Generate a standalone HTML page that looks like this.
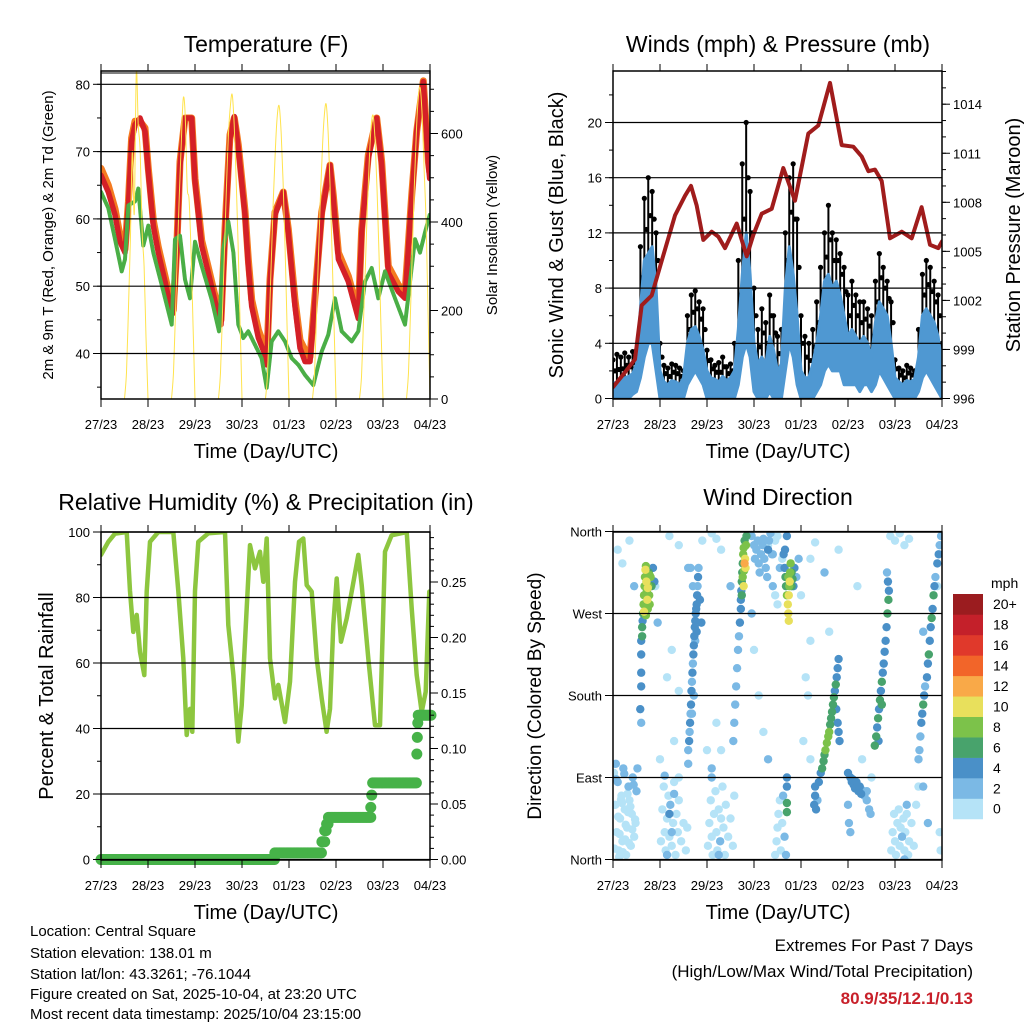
<!DOCTYPE html>
<html><head><meta charset="utf-8"><title>Weather station 7-day summary</title>
<style>
html,body{margin:0;padding:0;background:#fff;}
svg{display:block;font-family:"Liberation Sans",Arial,sans-serif;}
</style></head>
<body>
<svg id="fig" width="1024" height="1024" viewBox="0 0 1024 1024" xmlns="http://www.w3.org/2000/svg">
<defs>
<clipPath id="clipT"><rect x="101" y="71" width="329" height="328"/></clipPath>
<clipPath id="clipW"><rect x="613" y="71" width="329" height="328"/></clipPath>
<clipPath id="clipR"><rect x="101" y="532" width="329" height="328"/></clipPath>
<clipPath id="clipD"><rect x="613" y="532" width="329" height="328"/></clipPath>
</defs>
<text x="266" y="52" font-size="23" text-anchor="middle">Temperature (F)</text>
<text x="778" y="52" font-size="23" text-anchor="middle">Winds (mph) &amp; Pressure (mb)</text>
<text x="266" y="510" font-size="23" text-anchor="middle">Relative Humidity (%) &amp; Precipitation (in)</text>
<text x="778" y="505" font-size="23" text-anchor="middle">Wind Direction</text>

<text transform="translate(53,235) rotate(-90)" font-size="15" text-anchor="middle">2m &amp; 9m T (Red, Orange) &amp; 2m Td (Green)</text>
<text transform="translate(497,235) rotate(-90)" font-size="15" text-anchor="middle">Solar Insolation (Yellow)</text>
<text transform="translate(563,235) rotate(-90)" font-size="20" text-anchor="middle">Sonic Wind &amp; Gust (Blue, Black)</text>
<text transform="translate(1020,235) rotate(-90)" font-size="20" text-anchor="middle">Station Pressure (Maroon)</text>
<text transform="translate(53,696) rotate(-90)" font-size="20" text-anchor="middle">Percent &amp; Total Rainfall</text>
<text transform="translate(541,696) rotate(-90)" font-size="19" text-anchor="middle">Direction (Colored By Speed)</text>

<text x="266" y="458" font-size="20" text-anchor="middle">Time (Day/UTC)</text>
<text x="778" y="458" font-size="20" text-anchor="middle">Time (Day/UTC)</text>
<text x="266" y="919" font-size="20" text-anchor="middle">Time (Day/UTC)</text>
<text x="778" y="919" font-size="20" text-anchor="middle">Time (Day/UTC)</text>

<g font-size="15">
<text x="30" y="936">Location: Central Square</text>
<text x="30" y="958">Station elevation: 138.01 m</text>
<text x="30" y="979">Station lat/lon: 43.3261; -76.1044</text>
<text x="30" y="999">Figure created on Sat, 2025-10-04, at 23:20 UTC</text>
<text x="30" y="1019">Most recent data timestamp: 2025/10/04 23:15:00</text>
</g>
<g text-anchor="end">
<text x="973" y="951" font-size="17">Extremes For Past 7 Days</text>
<text x="973" y="977" font-size="17">(High/Low/Max Wind/Total Precipitation)</text>
<text x="973" y="1004" font-size="17" font-weight="bold" fill="#c8202a">80.9/35/12.1/0.13</text>
</g>
</svg>
<script>
// ---------- DATA ----------
const dayTickLabels = ["27/23","28/23","29/23","30/23","01/23","02/23","03/23","04/23"];
// Temperature
const tempTimes = [0,.156,.298,.404,.511,.582,.652,.723,.830,.936,1.007,1.113,1.220,1.362,1.504,1.539,1.610,1.681,1.787,1.929,2.0,2.142,2.284,2.496,2.553,2.638,2.745,2.837,2.922,3.064,3.135,3.206,3.348,3.489,3.525,3.596,3.702,3.879,3.986,4.128,4.234,4.340,4.447,4.553,4.695,4.872,4.943,5.050,5.262,5.475,5.546,5.688,5.865,5.972,6.113,6.326,6.468,6.610,6.716,6.858,6.965,6.993];
const temp2m = [66.5,64,60.6,56.6,55,62,71.5,74,75,73,67,59,55,50.7,46.2,46,55,68,75,75,65.5,56,52,45.7,44.3,58,72,75.2,70.5,60.6,53,47,42.3,39.8,38.3,50.7,60.6,64,58,47,40.8,38.8,38.8,48,60.6,68,63,54,50.7,45.2,58,69,75,68,52,49.2,48.2,63,73,80.4,68,66];
const temp9m = [67.5,65,61.5,57.5,55.5,62.5,72,74.5,74.5,73.5,67.5,59.8,55.8,51.5,47,46.5,55.5,68.5,75,75,66,56.8,52.8,46.5,45,58.5,72.5,75,71,61.2,54,48,43.5,40.8,39,51,61,64,58.5,48,42,40.5,39.5,48.5,61,68,63.5,55,51.5,46,58.5,69.5,75,68.5,53,50.2,49,63.5,73,80.5,68.5,67];
const dewTimes = [0,.156,.298,.44,.511,.582,.723,.794,.901,1.007,1.113,1.291,1.504,1.574,1.681,1.787,1.894,2.0,2.142,2.355,2.511,2.603,2.709,2.816,2.922,3.028,3.135,3.277,3.418,3.525,3.631,3.773,3.915,4.057,4.199,4.340,4.518,4.695,4.837,4.979,5.121,5.333,5.475,5.617,5.759,5.901,6.043,6.255,6.468,6.681,6.787,6.894,6.993];
const dewpoint = [64,61.6,57,52.2,54,62,62.6,64.5,56,59,55,50.2,44.3,57,57.5,51,48.2,56.6,53,48,43.3,55.6,59.6,55,44.3,42.3,43.3,41.3,39.3,34.9,41.8,43.3,41.8,39.3,38.3,36.8,35.3,40.3,42.8,48.2,43.3,41.8,43.3,50.7,52.7,48.2,52.2,48.2,44.3,57,55,58,60.6];
// Solar insolation: hourly daylight values (hours 12..24 after each day start)
const solarDay0 = [0,60,200,360,560,420,740,620,560,380,300,140,0];
const solarDay1 = [0,60,190,330,460,580,680,640,480,450,330,170,0];
const solarDay2 = [0,60,190,330,470,590,660,688,620,500,350,180,0];
const solarDay3 = [0,55,180,320,450,560,640,662,600,490,340,170,0];
const solarDay4 = [0,55,180,320,450,560,640,666,600,480,330,170,0];
const solarDay5 = [0,50,170,300,430,540,620,640,580,470,320,160,0];
const solarDay6 = [0,60,190,340,480,600,680,703,640,520,400,200,0];
const solarDays = [solarDay0,solarDay1,solarDay2,solarDay3,solarDay4,solarDay5,solarDay6];
// Winds (2-hourly)
const windHi = [1.2,1.0,1.3,1.5,1.6,1.8,2.5,6.5,10,10.5,11,8,2,1.2,1.0,1.3,1.2,1.0,1.5,4,5,5.2,4.5,3.5,2,1.5,1.4,1.2,1.6,1.3,1.5,2,5,9,12,9,4,2.5,3,2.5,4.5,3.5,2,2.5,8,11,9,6,2,1.5,1.5,2.5,4,6,8.5,9,8,8.5,7.5,6,4.5,5,4.5,4,4.5,4,3,5.5,7,6.5,6,4,1.5,1.2,1.0,1.3,1.2,1.4,3,6,6.5,6,5.5,4.5,2.5];
const windLo = [0,0,0,0,0,0.3,0.5,1.5,3,4,4,2,0,0,0,0,0,0,0,1,1.5,2,1.5,1,0,0,0,0,0,0,0,0,1,3,4,3,0.5,0,0,0,0.5,0,0,0,2,4,3,1,0,0,0,0,0.5,1,2,2.5,2,2,2,1,1,1,1,0.5,1,1,0.5,1,2,1.5,1,0.5,0,0,0,0,0,0,0.5,1.5,2,1.5,1,0.5,0];
const gust = [2.8,3.2,3.0,3.3,3.0,3.4,3.5,11,14.5,16,15,12,4,2.4,2.2,2.5,2.4,2.2,2.0,6,7.5,7.8,7,6.5,3.5,2.8,2.4,2.6,3.0,2.3,2.5,4,10,17,20,15,8,5,6.5,5.5,7.5,6,4.5,5,12,16,17,13,6,4.5,4,5,7,9.5,12,14,12,11.5,10.5,9.5,7.5,8.5,7.5,7,7,6.5,6,8.5,10.5,9.5,8.5,7,2.8,2.2,2.0,2.4,2.2,2.0,5,9,10,9.5,8.5,7.5,4];
const pressTimes = [0,.255,.468,.610,.823,1.035,1.319,1.532,1.660,1.780,1.922,2.099,2.241,2.383,2.631,2.844,2.986,3.163,3.376,3.624,3.872,4.156,4.369,4.617,4.865,5.113,5.291,5.433,5.574,5.716,5.894,6.142,6.355,6.567,6.745,6.922,7.0];
const pressure = [996.7,997.6,998.4,1001.7,1002.3,1004.4,1007.2,1008.4,1009,1007.8,1005.7,1006.2,1005.9,1005.2,1006.7,1004.7,1006,1007.3,1007.6,1010.1,1008.1,1012.2,1012.7,1015.3,1011.5,1011.4,1010.8,1009.9,1010,1009.3,1005.8,1006.2,1005.8,1007.7,1005.4,1005.2,1005.6];
// Relative humidity and precipitation
const rhTimes = [0,.156,.298,.546,.617,.688,.759,.830,.922,.972,1.043,1.220,1.539,1.645,1.752,1.823,1.894,1.943,2.0,2.071,2.284,2.638,2.709,2.816,2.922,2.993,3.099,3.170,3.277,3.383,3.454,3.525,3.596,3.702,3.773,3.915,4.021,4.128,4.213,4.305,4.376,4.482,4.589,4.695,4.801,4.872,4.943,5.014,5.106,5.227,5.333,5.475,5.546,5.688,5.830,5.936,6.043,6.184,6.504,6.610,6.716,6.823,6.908,6.986];
const rhValues = [93,97,99.5,100,82,69.5,74.7,63.4,56.3,81.8,97,100,100,82,61.4,38,46,39,82,97,99.6,100,71.6,56.3,36,47,76.7,96,88.9,94,84.8,98,61.4,49.2,53.3,42,54.3,84.8,97,98,83.8,81.8,61.4,49.2,39,46,71.6,85.8,66.5,73.6,81.8,93,83.8,61.4,41,41,94,99,100,76.7,56.3,45,51.2,81.8];
const precipTimes = [0,3.70,4.70,4.76,4.80,4.84,5.74,5.76,5.78,6.72,6.73,6.74,6.75];
const precipTotals = [0,0.006,0.016,0.026,0.032,0.038,0.047,0.058,0.069,0.095,0.11,0.123,0.13];
const precipEnd = 7.03;
// Wind direction (time in days, direction in degrees, speed mph)
const dirTimes = [0.02,0.05,0.08,0.1,0.12,0.15,0.18,0.2,0.22,0.25,0.28,0.3,0.33,0.35,0.38,0.4,0.42,0.45,0.48,0.5,0.03,0.07,0.11,0.14,0.17,0.21,0.24,0.27,0.31,0.34,0.37,0.41,0.44,0.47,0.52,0.06,0.13,0.19,0.26,0.32,
0.1,0.2,0.35,0.45,0.9,1.2,1.4,1.6,1.9,2.1,2.2,2.3,2.5,3.3,3.4,3.5,3.6,3.55,3.45,4.2,4.3,4.5,4.6,4.8,5.2,5.9,6.0,6.1,6.2,6.3,6.6,6.9,
0.62,0.63,0.64,0.65,0.66,0.67,0.68,0.69,0.7,0.71,0.72,0.73,0.74,0.75,0.76,0.77,0.78,0.8,0.82,0.85,0.88,0.66,0.7,0.74,0.78,0.6,0.6,0.6,0.6,0.6,0.58,0.95,0.62,
1.02,1.05,1.08,1.1,1.12,1.15,1.18,1.2,1.22,1.25,1.28,1.3,1.33,1.35,1.38,1.4,1.45,1.5,1.55,1.58,1.1,1.2,1.25,1.3,1.15,1.4,1.0,1.15,1.3,1.25,1.4,
1.6,1.62,1.63,1.64,1.65,1.66,1.67,1.68,1.69,1.7,1.71,1.72,1.73,1.74,1.75,1.76,1.77,1.78,1.79,1.8,1.81,1.82,1.75,1.78,1.7,1.65,1.85,1.88,1.6,1.72,1.68,
2.02,2.05,2.08,2.1,2.12,2.15,2.18,2.2,2.22,2.25,2.28,2.3,2.33,2.35,2.38,2.4,2.45,2.5,2.55,2.58,2.1,2.25,2.0,2.2,2.1,2.3,
2.56,2.58,2.6,2.62,2.64,2.66,2.68,2.7,2.72,2.73,2.74,2.75,2.76,2.77,2.78,2.8,2.81,2.82,2.79,2.8,2.83,2.84,2.78,2.76,2.74,2.72,
2.95,3.0,3.02,3.05,3.08,3.1,3.12,3.15,3.18,3.2,3.22,3.25,3.28,3.3,3.32,3.35,3.38,3.4,3.45,3.5,2.95,3.0,3.1,3.2,3.3,
3.45,3.48,3.5,3.52,3.55,3.57,3.6,3.62,3.65,3.68,3.7,3.7,3.7,3.7,
3.63,3.65,3.67,3.68,3.7,3.72,3.73,3.74,3.75,3.76,3.77,3.78,3.8,3.82,3.84,3.86,3.9,3.95,3.74,3.73,3.8,3.66,3.7,
4.0,4.1,4.15,4.2,4.05,4.2,
4.28,4.3,4.3,4.32,4.35,4.38,4.42,4.45,4.48,4.5,4.52,4.55,4.58,4.6,4.62,4.64,4.66,4.68,4.7,4.72,4.74,4.76,4.78,4.8,4.75,4.78,4.8,4.82,
5.0,5.05,5.08,5.1,5.12,5.15,5.18,5.2,5.22,5.25,5.28,5.3,5.35,5.4,5.45,5.0,5.02,5.05,5.4,5.48,5.3,5.5,
5.57,5.6,5.62,5.64,5.66,5.68,5.7,5.72,5.74,5.76,5.78,5.8,5.82,5.84,5.86,5.87,5.85,5.83,5.65,5.72,
5.92,5.95,5.98,6.0,6.02,6.05,6.08,6.1,6.12,6.15,6.18,6.2,6.22,6.25,6.28,6.3,6.35,6.4,6.45,6.5,6.2,6.25,
6.5,6.52,6.54,6.56,6.58,6.6,6.62,6.64,6.68,6.7,6.72,6.74,6.76,6.78,6.8,6.82,6.84,6.86,6.9,6.93,6.95,6.98,6.6,6.7,6.97,6.95];
const dirDegrees = [95,60,30,85,10,45,70,20,100,55,5,35,80,65,15,50,90,25,40,75,12,88,47,28,66,8,94,38,72,18,58,33,82,44,100,105,3,62,22,52,
340,325,350,300,300,355,345,320,350,358,352,340,300,345,335,355,330,320,350,330,348,315,250,340,300,355,350,358,345,352,250,300,
255,262,270,280,290,300,310,318,322,305,295,285,275,300,315,290,280,310,300,320,305,272,268,298,312,240,225,205,190,150,165,260,245,
20,55,80,30,10,45,70,25,60,15,40,85,5,50,30,65,20,40,10,35,92,50,30,72,5,90,110,200,130,230,185,
120,130,140,150,160,170,185,195,205,215,225,235,245,255,262,270,275,280,290,300,310,320,240,250,300,320,285,260,105,180,160,
15,40,65,25,5,50,75,30,10,55,20,45,80,35,5,60,25,45,15,70,90,5,120,150,100,120,
130,150,170,190,210,230,245,260,285,295,305,315,325,335,342,350,330,320,317,325,345,355,300,310,290,275,
355,345,330,340,350,325,315,335,345,352,330,320,310,340,350,358,335,300,290,280,270,230,180,140,110,
5,20,35,50,65,10,40,70,25,5,80,90,62,52,
335,320,310,300,290,280,270,290,300,305,315,325,315,308,300,320,310,330,262,310,300,340,355,
290,200,180,240,130,110,
60,70,80,55,65,85,95,100,108,115,120,128,135,140,148,155,162,170,178,185,192,200,210,220,165,150,140,130,
95,90,85,88,82,78,85,80,75,80,72,76,70,65,55,60,40,30,75,50,110,90,
125,135,145,155,165,175,185,195,205,215,228,240,255,270,285,295,305,315,130,170,
10,30,50,20,5,40,55,15,35,25,45,10,30,50,5,20,40,15,60,80,0,60,
110,120,135,150,160,170,180,190,200,215,225,240,255,265,275,290,300,310,325,335,345,355,80,40,10,30];
const dirSpeeds = [1,1,1,2,0,1,1,1,3,1,0,1,2,1,1,1,3,1,1,2,1,3,1,1,1,0,3,1,1,1,1,1,2,1,3,3,1,1,1,1,
1,1,1,2,1,1,1,2,1,1,1,1,2,1,2,1,1,2,1,1,1,2,1,1,1,1,1,1,1,1,2,1,
6,5,7,8,8,9,8,10,9,10,9,10,9,8,7,8,9,8,7,5,4,10,8,10,9,5,5,4,4,3,4,2,6,
1,1,1,1,1,1,1,1,2,1,1,1,1,1,1,1,1,1,1,1,3,4,3,3,2,1,1,1,1,1,1,
3,4,3,4,3,4,4,3,4,3,4,5,4,5,4,5,4,5,4,3,4,3,3,4,3,3,5,4,2,2,2,
1,1,1,1,1,1,1,1,1,1,2,1,1,1,1,1,1,1,1,1,3,3,1,1,2,1,
2,3,2,3,2,3,2,4,4,5,6,7,6,8,9,7,10,10,9,12,8,6,10,9,6,4,
2,2,3,2,3,2,2,3,2,3,2,3,2,4,3,2,2,2,1,1,2,1,1,1,2,
1,1,1,1,1,1,1,2,2,3,4,4,6,6,
4,5,6,7,8,10,10,10,9,10,8,8,7,6,5,4,3,2,10,9,6,4,4,
1,1,1,1,1,1,
4,4,5,4,3,4,4,6,6,7,8,8,8,8,7,6,6,6,6,5,6,4,4,4,4,4,4,4,
4,4,4,4,4,4,4,4,4,5,4,3,3,3,3,3,3,3,2,2,1,1,
6,6,5,6,5,6,4,6,5,4,4,4,4,7,6,5,4,3,4,6,
1,1,1,1,1,1,1,1,1,2,1,1,1,1,1,1,1,1,1,1,3,2,
2,3,3,4,4,6,4,3,4,4,6,4,4,6,4,7,4,3,4,4,3,2,2,2,1,1];
const speedColors = ["#b5e3f7","#7bb9e5","#4a90c8","#48a36c","#7cc24a","#e8e05c","#f9a948","#f26529","#e0392b","#c4202a","#9b1c1f"];
const speedLabels = ["0","2","4","6","8","10","12","14","16","18","20+"];

// ---------- HELPERS ----------
const NS = "http://www.w3.org/2000/svg";
const svg = document.getElementById("fig");
function mk(tag, attrs, parent){
  const e = document.createElementNS(NS, tag);
  for (const k in attrs) e.setAttribute(k, attrs[k]);
  (parent || svg).appendChild(e);
  return e;
}
function group(name, clip){
  const g = mk("g", clip ? {"clip-path":"url(#"+clip+")"} : {});
  
  
  return g;
}
function polyline(xs, ys, xf, yf, attrs, parent, name){
  const pts = xs.map((x,i)=> xf(x).toFixed(1)+","+yf(ys[i]).toFixed(1)).join(" ");
  const p = mk("polyline", Object.assign({points:pts, fill:"none", "stroke-linejoin":"round", "stroke-linecap":"round"}, attrs), parent);
  
  
  return p;
}
function smoothPath(xs, ys, xf, yf, attrs, parent, name){
  const P = xs.map((x,i)=>[xf(x), yf(ys[i])]);
  let d = "M"+P[0][0].toFixed(1)+","+P[0][1].toFixed(1);
  for (let i=0;i<P.length-1;i++){
    const p0 = P[Math.max(0,i-1)], p1 = P[i], p2 = P[i+1], p3 = P[Math.min(P.length-1,i+2)];
    const c1x = p1[0]+(p2[0]-p0[0])/6, c1y = p1[1]+(p2[1]-p0[1])/6;
    const c2x = p2[0]-(p3[0]-p1[0])/6, c2y = p2[1]-(p3[1]-p1[1])/6;
    d += " C"+c1x.toFixed(1)+","+c1y.toFixed(1)+" "+c2x.toFixed(1)+","+c2y.toFixed(1)+" "+p2[0].toFixed(1)+","+p2[1].toFixed(1);
  }
  const p = mk("path", Object.assign({d:d, fill:"none"}, attrs), parent);
  
  
  return p;
}
function text(x, y, str, attrs, parent, name){
  const t = mk("text", Object.assign({x:x, y:y, "font-size":13}, attrs), parent);
  t.textContent = str;
  
  
  return t;
}
function line(x1,y1,x2,y2,attrs,parent,name){
  const l = mk("line", Object.assign({x1:x1,y1:y1,x2:x2,y2:y2,stroke:"#000","stroke-width":1}, attrs), parent);
  
  
  return l;
}
function frameAndTimeAxis(x0, y0, prefix, labelY){
  const g = group(prefix+"-frame");
  const r = mk("rect", {x:x0, y:y0, width:329, height:328, fill:"none", stroke:"#000", "stroke-width":1.5}, g);
  
  
  const gx = group(prefix+"-x-axis");
  dayTickLabels.forEach((lab, i)=>{
    const x = x0 + i*47;
    line(x, y0+328, x, y0+336, {}, gx, prefix+"-x-tick");
    line(x, y0, x, y0-7, {}, gx, prefix+"-x-top-tick");
    text(x, labelY, lab, {"text-anchor":"middle"}, gx, prefix+"-x-tick-label");
  });
}
function yAxis(x0, x1, scale, majors, labels, minors, side, prefix, grid){
  const g = group(prefix+"-axis");
  const xe = side === "left" ? x0 : x1;
  const s = side === "left" ? -1 : 1;
  minors.forEach(v=>{ line(xe, scale(v), xe+s*4, scale(v), {}, g, prefix+"-minor-tick"); });
  majors.forEach((v,i)=>{
    const y = scale(v);
    line(xe, y, xe+s*8, y, {}, g, prefix+"-major-tick");
    if (grid) line(x0, y, x1, y, {"stroke-width":1.2}, g, prefix+"-gridline");
    text(xe+s*11, y+5, labels[i], {"text-anchor": side==="left"?"end":"start"}, g, prefix+"-tick-label");
  });
}
function range(a,b,st){ const r=[]; for(let v=a; v<=b+1e-9; v+=st) r.push(+v.toFixed(4)); return r; }

// ---------- TEMPERATURE PANEL ----------
const xT = d => 101 + d*47;
const yT = v => 84.3 + (80 - v)*6.73;
const yS = w => 399 - w*0.4425;
const xW = d => 613 + d*47;
(function(){
  const g = group("temperature-plot","clipT");
  const gs = group("solar-series","clipT");
  solarDays.forEach((vals, k)=>{
    const ts = vals.map((v,j)=> (24*k + 12 + j)/24);
    smoothPath(ts, vals, xT, yS, {stroke:"#ffe34d","stroke-width":1}, gs, "solar-line-day"+k);
  });
  polyline(tempTimes, temp9m, xT, yT, {stroke:"#f47a20","stroke-width":7}, g, "temp-9m-line");
  polyline(tempTimes, temp2m, xT, yT, {stroke:"#d42027","stroke-width":5.5}, g, "temp-2m-line");
  polyline(dewTimes, dewpoint, xT, yT, {stroke:"#4aae46","stroke-width":4,"stroke-dasharray":"3 1"}, g, "dewpoint-line");
  yAxis(101, 430, yT, [40,50,60,70,80], ["40","50","60","70","80"], range(35,80,5), "left", "temp-y", true);
  yAxis(101, 430, yS, [0,200,400,600], ["0","200","400","600"], range(0,700,50), "right", "solar-y", false);
  line(101, 73, 430, 73, {"stroke-width":1}, null, "temp-top-line");
  frameAndTimeAxis(101, 71, "temp", 429);
})();

// ---------- WIND PANEL ----------
const yW = v => 398.5 - v*13.8;
const yP = p => 398.5 - (p-996)*16.35;
(function(){
  const g = group("wind-plot","clipW");
  const n = windHi.length;
  const tw = windHi.map((_,i)=> i/12);
  tw.forEach((t,i)=>{
    line(xW(t), yW(windHi[i]), xW(t), yW(gust[i]), {"stroke-width":2}, g, "gust-band");
  });
  tw.forEach((t,i)=>{
    const c = mk("circle", {cx:xW(t), cy:yW(gust[i]), r:2.6, fill:"#000"}, g);
    
    
    const c2 = mk("circle", {cx:xW(t)+2, cy:yW((gust[i]+windHi[i])/2), r:2.6, fill:"#000"}, g);
    
    
  });
  let d = "M" + tw.map((t,i)=> xW(t).toFixed(1)+","+yW(windHi[i]).toFixed(1)).join(" L");
  for (let i=n-1;i>=0;i--) d += " L"+xW(tw[i]).toFixed(1)+","+yW(windLo[i]).toFixed(1);
  const area = mk("path", {d:d+" Z", fill:"#4f98d2", stroke:"#4f98d2", "stroke-width":3, "stroke-linejoin":"round"}, g);
  
  
  polyline(pressTimes, pressure, xW, yP, {stroke:"#a01c1c","stroke-width":4}, g, "pressure-line");
  yAxis(613, 942, yW, [0,4,8,12,16,20], ["0","4","8","12","16","20"], range(0,22,2), "left", "wind-y", true);
  yAxis(613, 942, yP, [996,999,1002,1005,1008,1011,1014], ["996","999","1002","1005","1008","1011","1014"], range(996,1016,1), "right", "pressure-y", false);
  frameAndTimeAxis(613, 71, "wind", 429);
})();

// ---------- RH PANEL ----------
const yR = v => 859.5 - v*3.275;
const yPr = v => 859.5 - v*1110;
(function(){
  const g = group("rh-plot","clipR");
  polyline(rhTimes, rhValues, xT, yR, {stroke:"#8dc63f","stroke-width":4.5}, g, "relative-humidity-line");
  const gp = group("precip-series");
  for (let i=0;i<precipTimes.length;i++){
    const t0 = precipTimes[i];
    const t1 = i+1<precipTimes.length ? precipTimes[i+1] : precipEnd;
    for (let t=t0; t<=t1+1e-9; t+=0.03){
      const c = mk("circle", {cx:xT(t), cy:yPr(precipTotals[i]), r:5.5, fill:"#46b248"}, gp);
      
      
    }
  }
  yAxis(101, 430, yR, [0,20,40,60,80,100], ["0","20","40","60","80","100"], range(0,100,10), "left", "rh-y", true);
  yAxis(101, 430, yPr, [0,0.05,0.10,0.15,0.20,0.25], ["0.00","0.05","0.10","0.15","0.20","0.25"], range(0,0.29,0.01), "right", "precip-y", false);
  frameAndTimeAxis(101, 532, "rh", 890);
})();

// ---------- WIND DIRECTION PANEL ----------
const yD = v => 859.5 - v*0.9111;
(function(){
  const g = group("direction-plot","clipD");
  const order = dirSpeeds.map((s,i)=>i).sort((a,b)=>dirSpeeds[a]-dirSpeeds[b]);
  order.forEach(i=>{
    const idx = Math.min(10, Math.floor(dirSpeeds[i]/2));
    const c = mk("circle", {cx:xW(dirTimes[i]), cy:yD(dirDegrees[i]), r:4.2, fill:speedColors[idx]}, g);
    
    
  });
  yAxis(613, 942, yD, [0,90,180,270,360], ["North","East","South","West","North"], [], "left", "direction-y", true);
  frameAndTimeAxis(613, 532, "direction", 890);
  const cb = group("speed-colorbar");
  text(991, 588, "mph", {"font-size":14}, cb, "colorbar-title");
  const top = 594, bh = 20.45;
  speedColors.forEach((col, k)=>{
    const y = top + (10-k)*bh;
    const r = mk("rect", {x:953, y:y, width:30, height:bh+0.3, fill:col}, cb);
    
    
    text(993, y+bh/2+5, speedLabels[k], {"font-size":14}, cb, "colorbar-label");
  });
})();
</script>
</body></html>
